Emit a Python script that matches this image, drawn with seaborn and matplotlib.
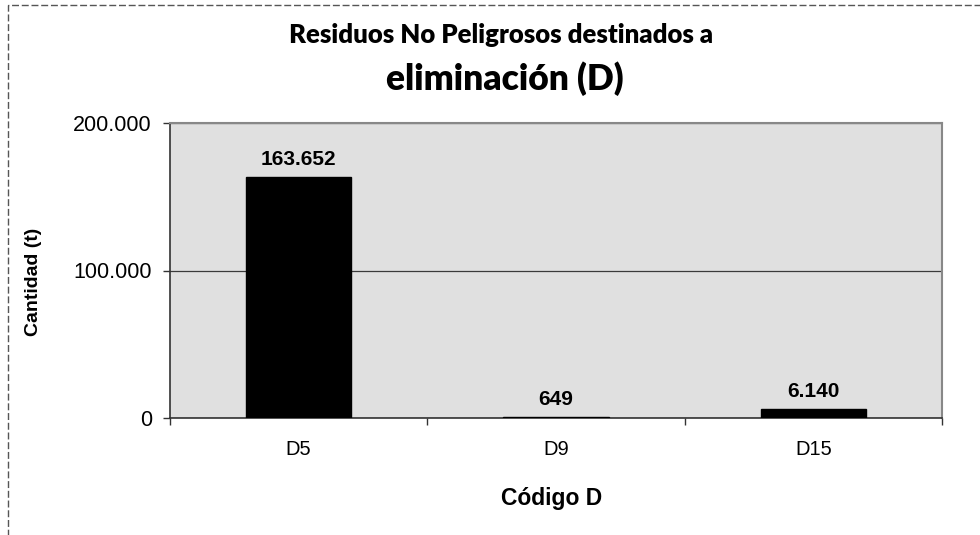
import matplotlib
matplotlib.use("Agg")
import matplotlib.pyplot as plt
import seaborn as sns
import pandas as pd
from matplotlib.patches import Rectangle
from matplotlib.ticker import FixedLocator, FuncFormatter

categories = ["D5", "D9", "D15"]
values = [163652, 649, 6140]
y_ticks = [0, 100000, 200000]
title_line1 = "Residuos No Peligrosos destinados a"
title_line2 = "eliminación (D)"
x_label = "Código D"
y_label = "Cantidad (t)"

df = pd.DataFrame({"codigo": categories, "cantidad": values})

sns.set_theme(style="white")
plt.rcParams['font.family'] = ['Liberation Sans', 'DejaVu Sans']

fig = plt.figure(figsize=(9.8, 5.35), dpi=100)
ax = fig.add_axes([170/980, 1-418/535, (942-170)/980, (418-123)/535])

sns.barplot(data=df, x="codigo", y="cantidad", color="black", width=0.41,
            saturation=1, ax=ax, zorder=3)
for p in ax.patches:
    p.set_edgecolor("black")

ax.set_facecolor("#e0e0e0")
ax.set_xlim(-0.5, 2.5)
ax.set_ylim(0, 200000)
ax.yaxis.set_major_locator(FixedLocator(y_ticks))
ax.yaxis.set_major_formatter(FuncFormatter(lambda v, _: f"{int(v):,}".replace(",", ".")))
ax.grid(axis="y", color="#3a3a3a", linewidth=0.9, zorder=1)
ax.set_axisbelow(True)

# x ticks at category boundaries, labels at centres
ax.set_xticks([-0.5, 0.5, 1.5, 2.5])
ax.set_xticklabels([])
ax.set_xticks([0, 1, 2], minor=True)
ax.set_xticklabels(categories, minor=True)
ax.tick_params(axis="x", which="major", direction="out", length=5, width=1, color="#333333", bottom=True)
ax.tick_params(axis="x", which="minor", length=0, pad=16, labelsize=14.5, labelcolor="black")
ax.tick_params(axis="y", direction="out", length=5, width=1, color="#333333", left=True,
               pad=8, labelsize=15.5, labelcolor="black")

for side in ["left", "bottom"]:
    ax.spines[side].set_color("#333333")
    ax.spines[side].set_linewidth(1.2)
for side in ["top", "right"]:
    ax.spines[side].set_visible(True)
    ax.spines[side].set_color("#888888")
    ax.spines[side].set_linewidth(1.5)

for i, v in enumerate(values):
    ax.annotate(f"{v:,}".replace(",", "."), xy=(i, v), xytext=(0, 12),
                textcoords="offset pixels", ha="center", va="baseline",
                fontsize=15, fontweight="bold", color="black")

ax.set_xlabel("")
ax.set_ylabel("")
fig.text(34/980, 1-282/535, y_label, rotation=90, ha="center", va="center",
         fontsize=14, fontweight="bold", color="black")
fig.text(552/980, 1-498/535, x_label, ha="center", va="center",
         fontsize=16.5, fontweight="bold", color="black")

fig.text(501.5/980, 1-43/535, title_line1, ha="center", va="baseline",
         fontsize=18.5, fontweight=800, color="black", family=["Lato", "DejaVu Sans"])
fig.text(504.5/980, 1-90/535, title_line2, ha="center", va="baseline",
         fontsize=25.5, fontweight=800, color="black", family=["Lato", "DejaVu Sans"])

border = Rectangle((8/980, -0.1), 1.2, 1 - 5/535 + 0.1, transform=fig.transFigure,
                   fill=False, edgecolor="#555555", linewidth=1, linestyle=(0, (5, 2)),
                   clip_on=False)
fig.patches.append(border)

fig.savefig("out.png", dpi=100)
